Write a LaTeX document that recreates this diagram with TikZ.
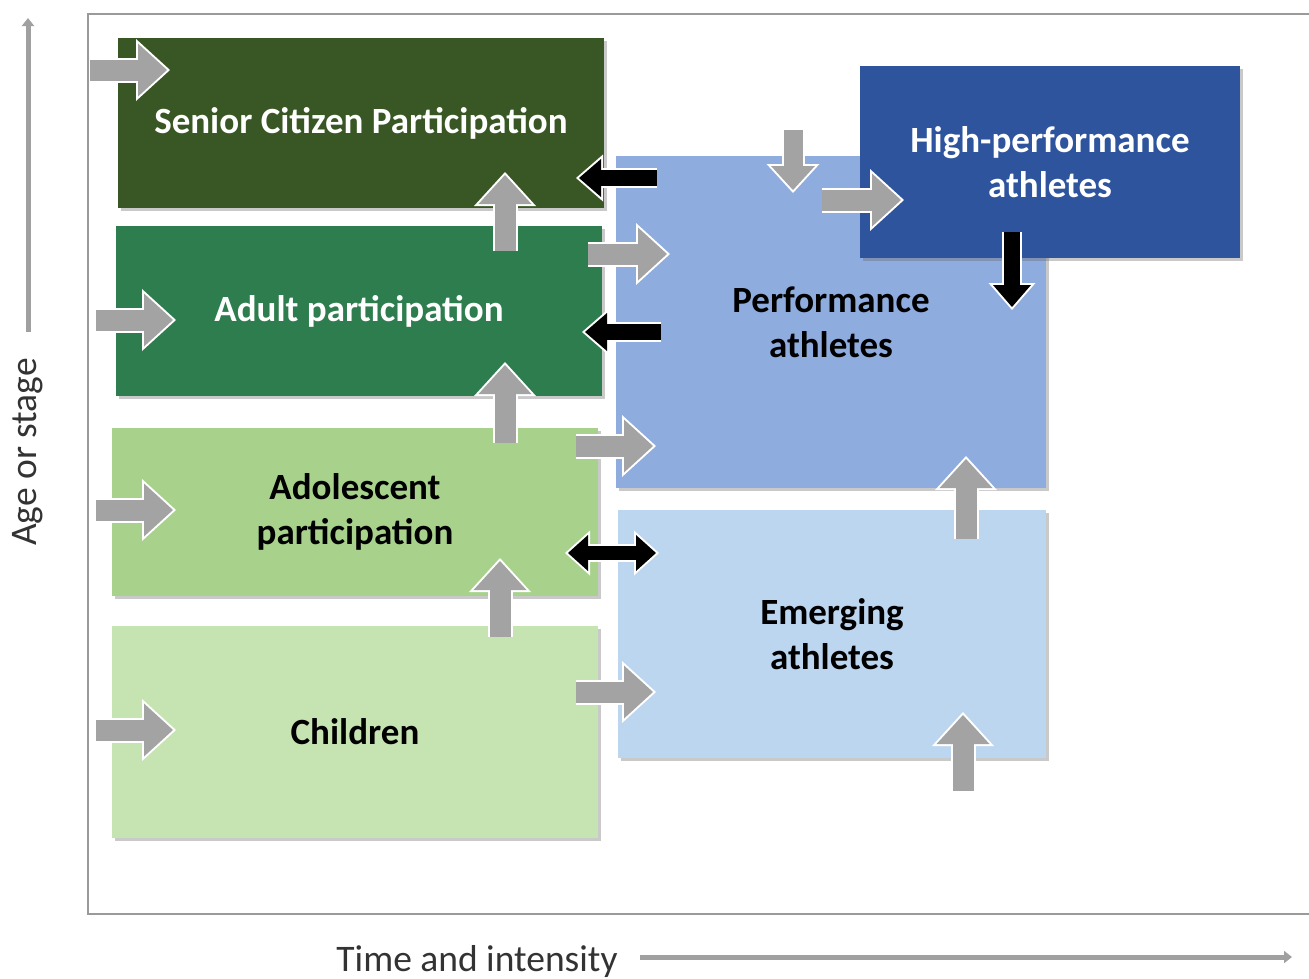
\documentclass[tikz,border=0pt]{standalone}
\usepackage{fontspec}
\setmainfont{Carlito}
\usetikzlibrary{arrows.meta,shadows}
\definecolor{cSenior}{HTML}{395724}
\definecolor{cAdult}{HTML}{2E7D4E}
\definecolor{cAdol}{HTML}{A8D28C}
\definecolor{cChild}{HTML}{C6E4B2}
\definecolor{cPerf}{HTML}{8EACDE}
\definecolor{cEmerg}{HTML}{BCD6F0}
\definecolor{cHP}{HTML}{2E549E}
\definecolor{cArrow}{HTML}{A3A3A3}
\definecolor{cAxis}{HTML}{A0A0A0}
\definecolor{cFrame}{HTML}{9A9A9A}
\begin{document}
\begin{tikzpicture}[x=1pt,y=-1pt,
  box/.style={rectangle, inner sep=0pt, align=center,
    font=\fontsize{37}{45}\selectfont\bfseries,
    drop shadow={shadow xshift=3pt, shadow yshift=-3pt, opacity=0.35, fill=black!60}},
  garrow/.style={
    preaction={draw=white, line width=25pt, shorten >=-3pt,
      -{Triangle[width=62pt, length=34pt, line width=0pt]}},
    draw=cArrow, line width=21pt,
    -{Triangle[width=53pt, length=29pt, line width=0pt]}},
  garrowsmall/.style={
    preaction={draw=white, line width=23pt, shorten >=-3pt,
      -{Triangle[width=53pt, length=29pt, line width=0pt]}},
    draw=cArrow, line width=19pt,
    -{Triangle[width=44pt, length=24pt, line width=0pt]}},
  karrow/.style={
    preaction={draw=white, line width=20pt, shorten >=-3pt,
      -{Triangle[width=47pt, length=27pt, line width=0pt]}},
    draw=black, line width=16pt,
    -{Triangle[width=38pt, length=22pt, line width=0pt]}},
  kdarrow/.style={
    preaction={draw=white, line width=18pt, shorten >=-3pt, shorten <=-3pt,
      {Triangle[width=45pt, length=25pt, line width=0pt]}-{Triangle[width=45pt, length=25pt, line width=0pt]}},
    draw=black, line width=14pt,
    {Triangle[width=36pt, length=20pt, line width=0pt]}-{Triangle[width=36pt, length=20pt, line width=0pt]}},
  axisarrow/.style={draw=cAxis, line width=5pt, -{Triangle[width=12pt, length=8pt]}},
  axislabel/.style={font=\fontsize{37.5}{40}\selectfont, text=black!80, inner sep=0pt}
]
\useasboundingbox (0,0) rectangle (1309,978);
\fill[white] (0,0) rectangle (1309,978);

% frame
\draw[cFrame, line width=2pt] (1309,14) -- (88,14) -- (88,914) -- (1309,914);

% boxes
\node[box, fill=cSenior, text=white, minimum width=486pt, minimum height=170pt] (senior) at (361,123) {Senior Citizen Participation};
\node[box, fill=cAdult, text=white, minimum width=486pt, minimum height=170pt] (adult) at (359,311) {Adult participation};
\node[box, fill=cAdol, text=black, minimum width=486pt, minimum height=168pt] (adol) at (355,512) {Adolescent\\participation};
\node[box, fill=cChild, text=black, minimum width=486pt, minimum height=212pt] (child) at (355,732) {Children};
\node[box, fill=cPerf, text=black, minimum width=430pt, minimum height=332pt] (perf) at (831,322) {Performance\\athletes};
\node[box, fill=cEmerg, text=black, minimum width=428pt, minimum height=248pt] (emerg) at (832,634) {Emerging\\athletes};
\node[box, fill=cHP, text=white, minimum width=380pt, minimum height=192pt] (hp) at (1050,162) {High-performance\\athletes};

% arrow end points
\coordinate (inS) at (90,70);   \coordinate (inS2) at (167,70);
\coordinate (inA) at (96,320);  \coordinate (inA2) at (173,320);
\coordinate (inD) at (96,510);  \coordinate (inD2) at (173,510);
\coordinate (inC) at (96,730);  \coordinate (inC2) at (173,730);

\coordinate (aS1) at (505,251); \coordinate (aS2) at (505,175);
\coordinate (dA1) at (505,443); \coordinate (dA2) at (505,365);
\coordinate (cD1) at (500,637); \coordinate (cD2) at (500,561);

\coordinate (aP1) at (588,254); \coordinate (aP2) at (667,254);
\coordinate (dP1) at (576,446); \coordinate (dP2) at (653,446);
\coordinate (cE1) at (576,692); \coordinate (cE2) at (653,692);

\coordinate (pS1) at (657,178); \coordinate (pS2) at (579,178);
\coordinate (pA1) at (661,332); \coordinate (pA2) at (585,332);
\coordinate (dE1) at (568,553); \coordinate (dE2) at (656,553);

\coordinate (tP1) at (793,130); \coordinate (tP2) at (793,190);
\coordinate (pH1) at (822,200); \coordinate (pH2) at (901,200);
\coordinate (hP1) at (1012,232); \coordinate (hP2) at (1012,307);
\coordinate (eP1) at (966,539); \coordinate (eP2) at (966,459);
\coordinate (bE1) at (963,791); \coordinate (bE2) at (963,715);

% gray arrows
\draw[garrow] (inS) -- (inS2);
\draw[garrow] (inA) -- (inA2);
\draw[garrow] (inD) -- (inD2);
\draw[garrow] (inC) -- (inC2);
\draw[garrow] (aS1) -- (aS2);
\draw[garrow] (dA1) -- (dA2);
\draw[garrow] (cD1) -- (cD2);
\draw[garrow] (aP1) -- (aP2);
\draw[garrow] (dP1) -- (dP2);
\draw[garrow] (cE1) -- (cE2);
\draw[garrowsmall] (tP1) -- (tP2);
\draw[garrow] (pH1) -- (pH2);
\draw[garrow] (eP1) -- (eP2);
\draw[garrow] (bE1) -- (bE2);

% black arrows
\draw[karrow] (pS1) -- (pS2);
\draw[karrow] (pA1) -- (pA2);
\draw[karrow] (hP1) -- (hP2);
\draw[kdarrow] (dE1) -- (dE2);

% axes
\coordinate (vy1) at (28,332); \coordinate (vy2) at (28,18);
\draw[axisarrow] (vy1) -- (vy2);
\node[axislabel, rotate=90] (agelabel) at (28,452) {Age or stage};
\coordinate (hx1) at (640,957); \coordinate (hx2) at (1292,957);
\draw[axisarrow] (hx1) -- (hx2);
\node[axislabel] (timelabel) at (477,961) {Time and intensity};
\end{tikzpicture}
\end{document}
